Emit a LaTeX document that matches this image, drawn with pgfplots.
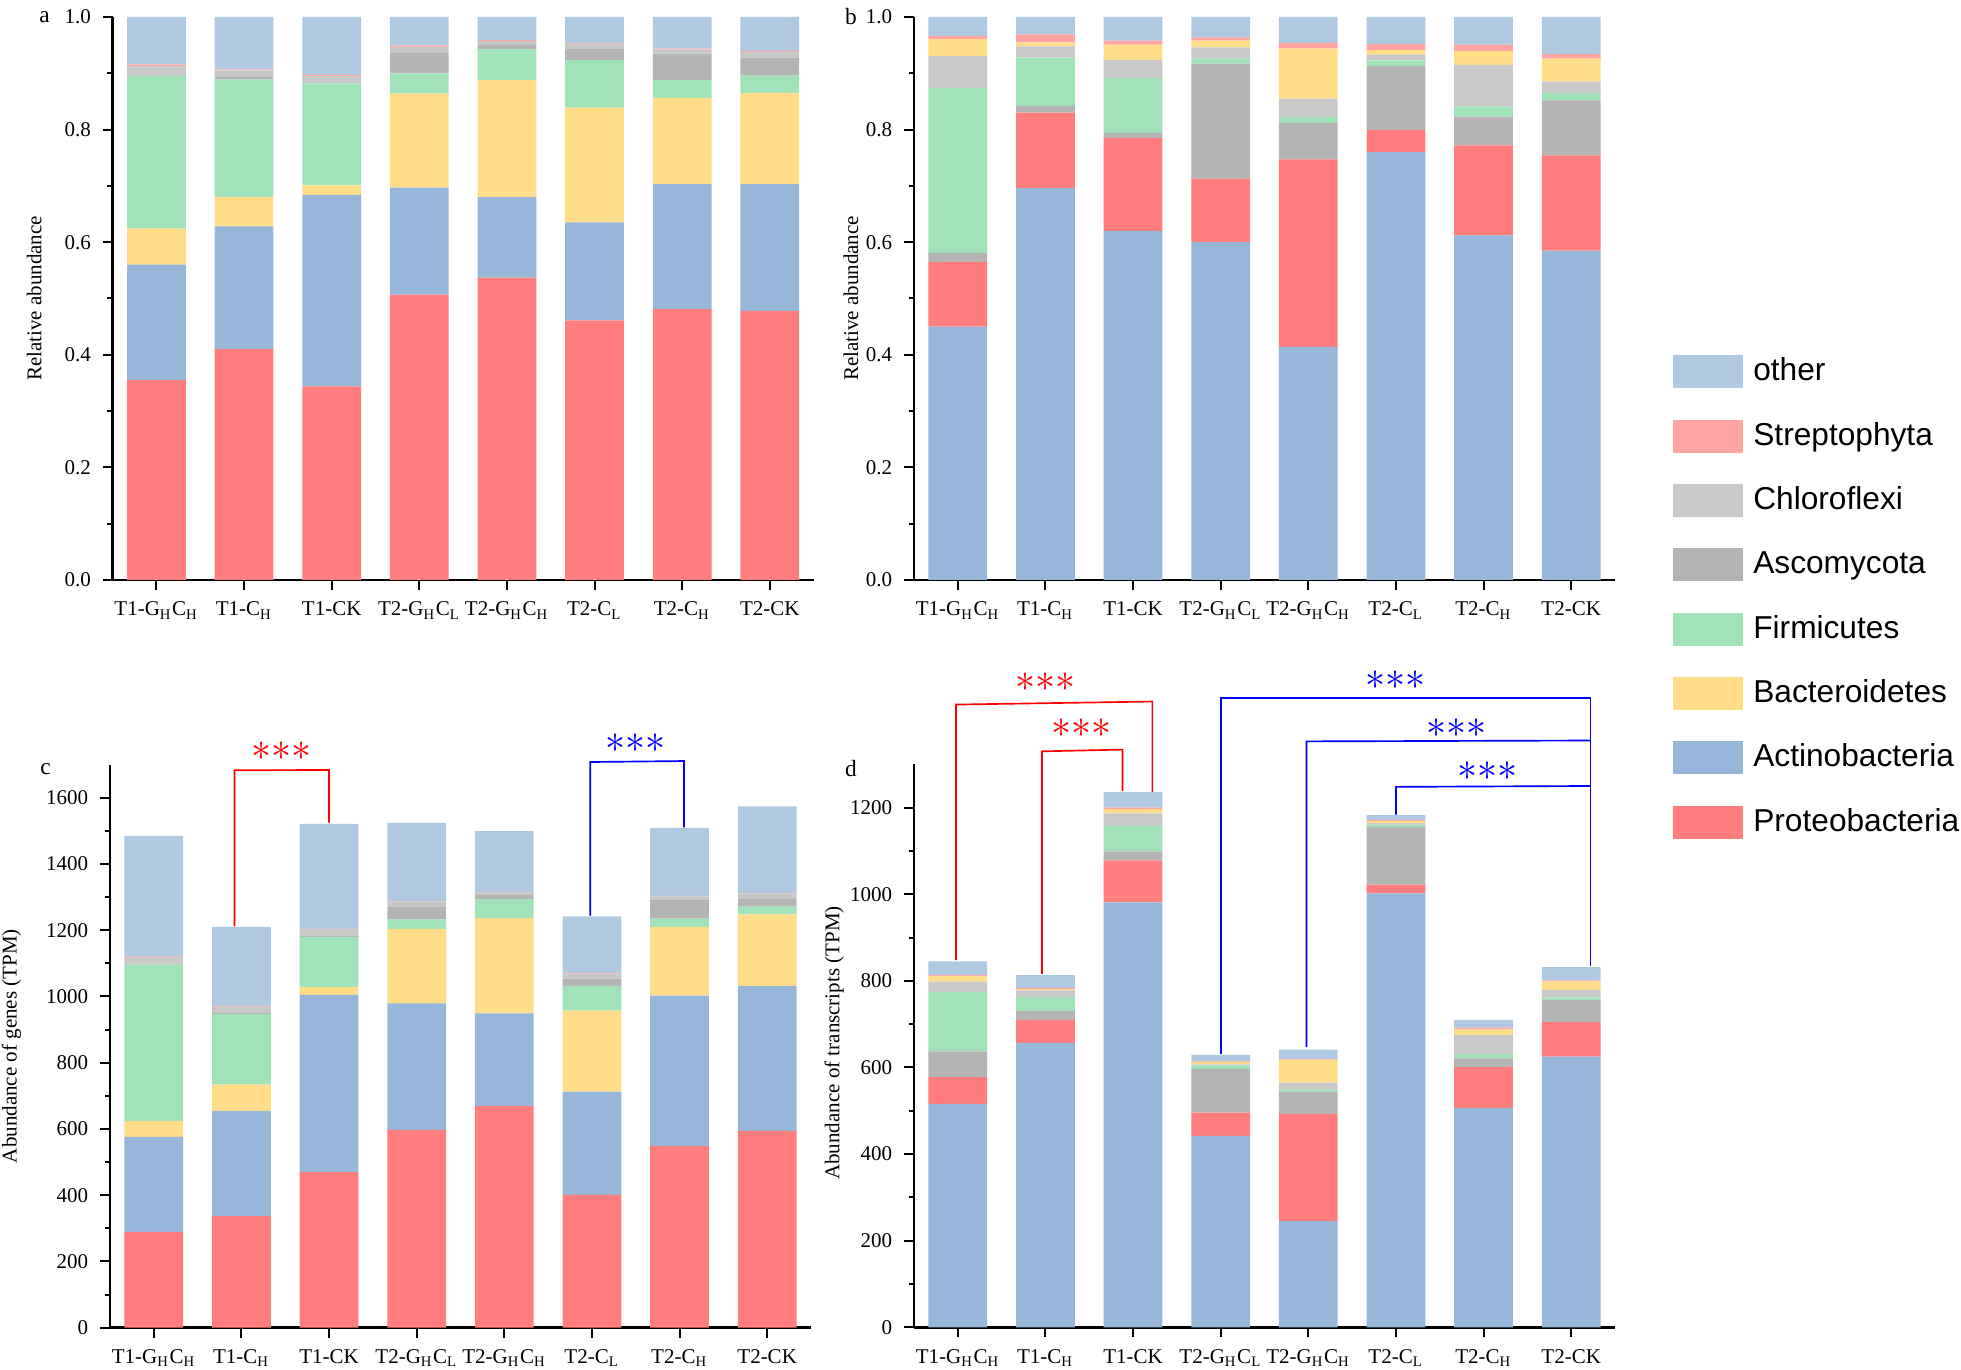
\documentclass[border=0pt]{standalone}
\usepackage{pgfplots}
\pgfplotsset{compat=1.18}
\usepackage{pgfplotstable}
\usepackage{fontspec}
\setmainfont{Liberation Serif}
\newfontfamily\legendfont{Liberation Sans}
\newcommand\lbl{\fontsize{6.3}{7.5}\selectfont}
\newcommand\stars{\fontsize{12}{12}\selectfont${\ast}{\ast}{\ast}$}

\definecolor{cO}{RGB}{176,201,226}
\definecolor{cSt}{RGB}{255,163,163}
\definecolor{cCh}{RGB}{200,200,200}
\definecolor{cAs}{RGB}{180,180,180}
\definecolor{cF}{RGB}{160,227,185}
\definecolor{cB}{RGB}{255,221,136}
\definecolor{cA}{RGB}{150,183,218}
\definecolor{cP}{RGB}{255,125,125}

% panel a: relative abundance of genes (segments, bottom to top)
\pgfplotstableread{
x P A B F As Ch St O
0 0.355 0.205 0.064 0.272 0.002 0.015 0.003 0.084
1 0.410 0.218 0.052 0.209 0.004 0.012 0.002 0.093
2 0.344 0.340 0.017 0.181 0.002 0.011 0.002 0.103
3 0.507 0.190 0.167 0.036 0.037 0.010 0.002 0.051
4 0.537 0.143 0.208 0.055 0.007 0.007 0.002 0.041
5 0.461 0.174 0.204 0.085 0.019 0.009 0.001 0.047
6 0.481 0.222 0.153 0.032 0.047 0.007 0.002 0.056
7 0.478 0.225 0.162 0.031 0.032 0.010 0.002 0.060
}\tabA
% panel b: relative abundance of transcripts
\pgfplotstableread{
x A P As F Ch B St O
0 0.450 0.115 0.016 0.293 0.057 0.030 0.005 0.034
1 0.696 0.134 0.012 0.086 0.020 0.007 0.014 0.031
2 0.620 0.165 0.009 0.098 0.032 0.027 0.007 0.042
3 0.600 0.113 0.204 0.009 0.020 0.012 0.006 0.036
4 0.414 0.333 0.065 0.010 0.033 0.089 0.010 0.046
5 0.760 0.039 0.114 0.010 0.010 0.008 0.011 0.048
6 0.612 0.160 0.051 0.018 0.074 0.025 0.011 0.049
7 0.585 0.169 0.098 0.013 0.020 0.041 0.008 0.066
}\tabB
% panel c: abundance of genes (TPM)
\pgfplotstableread{
x P A B F As Ch St O
0 289 287 48 472 3 20 2 364
1 337 318 79 213 3 18 2 240
2 470 535 23 152 2 19 2 318
3 597 382 225 29 37 17 2 235
4 669 280 288 57 14 4 2 185
5 401 312 244 75 22 15 2 171
6 549 454 207 25 56 11 2 205
7 594 437 217 23 25 15 2 261
}\tabC
% panel d: abundance of transcripts (TPM)
\pgfplotstableread{
x A P As F Ch B St O
0 516 62 59 137 24 13 2 32
1 657 53 20 33 15 3 3 29
2 981 97 21 59 29 10 3 36
3 442 54 101 8 2 6 1 15
4 245 248 51 5 16 53 2 21
5 1002 20 133 6 3 5 3 11
6 507 94 20 10 44 13 4 18
7 625 80 51 6 17 20 2 31
}\tabD

\pgfplotsset{
  panel/.style={
    width=210.3pt, height=168.9pt, scale only axis,
    ybar stacked, bar width=0.67,
    xmin=-0.5, xmax=7.5, ymin=0,
    xtick={0,...,7},
    xticklabels={T1-G\textsubscript{H}C\textsubscript{H}, T1-C\textsubscript{H}, T1-CK, T2-G\textsubscript{H}C\textsubscript{L}, T2-G\textsubscript{H}C\textsubscript{H}, T2-C\textsubscript{L}, T2-C\textsubscript{H}, T2-CK},
    axis x line*=bottom, axis y line*=left,
    axis line style={line width=0.8pt, -},
    tick align=outside, major tick length=3pt, minor tick length=1.6pt,
    tick style={line width=0.6pt, black},
    minor y tick num=1,
    ticklabel style={font=\lbl},
    label style={font=\lbl},
    /pgf/number format/assume math mode=true,
    /pgf/number format/set thousands separator={},
    clip=false,
    every axis plot/.append style={draw=none},
  },
  frac/.style={ymax=1, ytick={0,0.2,0.4,0.6,0.8,1},
    yticklabel style={/pgf/number format/.cd, fixed, fixed zerofill, precision=1}},
}

\begin{document}
\begin{tikzpicture}
\useasboundingbox (0,0) rectangle (588.3pt,-411pt);

% ---------- a ----------
\begin{axis}[panel, frac,
  at={(33.8pt,-174pt)}, anchor=south west,
  ylabel={Relative abundance},
  ylabel style={at={(axis description cs:-0.112,0.5)}, anchor=center},
  reverse legend, legend cell align=left,
  legend image code/.code={\fill[#1] (0pt,-4.95pt) rectangle (21pt,4.95pt);},
  legend style={at={(axis description cs:2.2245,0.400)}, anchor=north west,
    draw=none, fill=none, inner sep=0pt, row sep=9.4pt,
    font=\legendfont\fontsize{9.5}{11}\selectfont,
    nodes={inner sep=0pt},
    /tikz/every odd column/.append style={column sep=3.2pt}},
]
\addplot[fill=cP]  table[x=x,y=P]{\tabA}; \addlegendentry{Proteobacteria}
\addplot[fill=cA]  table[x=x,y=A]{\tabA}; \addlegendentry{Actinobacteria}
\addplot[fill=cB]  table[x=x,y=B]{\tabA}; \addlegendentry{Bacteroidetes}
\addplot[fill=cF]  table[x=x,y=F]{\tabA}; \addlegendentry{Firmicutes}
\addplot[fill=cAs] table[x=x,y=As]{\tabA}; \addlegendentry{Ascomycota}
\addplot[fill=cCh] table[x=x,y=Ch]{\tabA}; \addlegendentry{Chloroflexi}
\addplot[fill=cSt] table[x=x,y=St]{\tabA}; \addlegendentry{Streptophyta}
\addplot[fill=cO]  table[x=x,y=O]{\tabA}; \addlegendentry{other}
\node[font=\fontsize{7}{8}\selectfont] at (axis description cs:-0.097,1) {a};
\end{axis}

% ---------- b ----------
\begin{axis}[panel, frac,
  at={(274.2pt,-174pt)}, anchor=south west,
  ylabel={Relative abundance},
  ylabel style={at={(axis description cs:-0.090,0.5)}, anchor=center},
]
\addplot[fill=cA]  table[x=x,y=A]{\tabB};
\addplot[fill=cP]  table[x=x,y=P]{\tabB};
\addplot[fill=cAs] table[x=x,y=As]{\tabB};
\addplot[fill=cF]  table[x=x,y=F]{\tabB};
\addplot[fill=cCh] table[x=x,y=Ch]{\tabB};
\addplot[fill=cB]  table[x=x,y=B]{\tabB};
\addplot[fill=cSt] table[x=x,y=St]{\tabB};
\addplot[fill=cO]  table[x=x,y=O]{\tabB};
\node[font=\fontsize{7}{8}\selectfont] at (axis description cs:-0.090,1) {b};
\end{axis}

% ---------- c ----------
\begin{axis}[panel,
  at={(33.0pt,-398.3pt)}, anchor=south west,
  ymax=1700, ytick={0,200,...,1600},
  ylabel={Abundance of genes (TPM)},
  ylabel style={at={(axis description cs:-0.1405,0.5)}, anchor=center},
]
\addplot[fill=cP]  table[x=x,y=P]{\tabC};
\addplot[fill=cA]  table[x=x,y=A]{\tabC};
\addplot[fill=cB]  table[x=x,y=B]{\tabC};
\addplot[fill=cF]  table[x=x,y=F]{\tabC};
\addplot[fill=cAs] table[x=x,y=As]{\tabC};
\addplot[fill=cCh] table[x=x,y=Ch]{\tabC};
\addplot[fill=cSt] table[x=x,y=St]{\tabC};
\addplot[fill=cO]  table[x=x,y=O]{\tabC};
\node[font=\fontsize{7}{8}\selectfont] at (axis description cs:-0.092,0.992) {c};
\draw[red, line width=0.5pt] (axis cs:0.92,1212) -- (axis cs:0.92,1683) -- (axis cs:2.0,1684) -- (axis cs:2.0,1525);
\node[red] at (axis cs:1.46,1742) {\stars};
\draw[blue, line width=0.5pt] (axis cs:4.98,1244) -- (axis cs:4.98,1708) -- (axis cs:6.05,1711) -- (axis cs:6.05,1511);
\node[blue] at (axis cs:5.5,1766) {\stars};
\end{axis}

% ---------- d ----------
\begin{axis}[panel,
  at={(274.2pt,-398.2pt)}, anchor=south west,
  ymax=1300, ytick={0,200,...,1200},
  ylabel={Abundance of transcripts (TPM)},
  ylabel style={at={(axis description cs:-0.114,0.505)}, anchor=center},
]
\addplot[fill=cA]  table[x=x,y=A]{\tabD};
\addplot[fill=cP]  table[x=x,y=P]{\tabD};
\addplot[fill=cAs] table[x=x,y=As]{\tabD};
\addplot[fill=cF]  table[x=x,y=F]{\tabD};
\addplot[fill=cCh] table[x=x,y=Ch]{\tabD};
\addplot[fill=cB]  table[x=x,y=B]{\tabD};
\addplot[fill=cSt] table[x=x,y=St]{\tabD};
\addplot[fill=cO]  table[x=x,y=O]{\tabD};
\node[font=\fontsize{7}{8}\selectfont] at (axis description cs:-0.090,0.992) {d};
\draw[red, line width=0.5pt] (axis cs:-0.02,848) -- (axis cs:-0.02,1438) -- (axis cs:2.22,1445) -- (axis cs:2.22,1234);
\draw[red, line width=0.5pt] (axis cs:0.96,816) -- (axis cs:0.96,1330) -- (axis cs:1.88,1334) -- (axis cs:1.88,1238);
\node[red] at (axis cs:1.0,1489) {\stars};
\node[red] at (axis cs:1.41,1383) {\stars};
\draw[blue, line width=0.5pt] (axis cs:3.0,631) -- (axis cs:3.0,1453) -- (axis cs:7.22,1453) -- (axis cs:7.22,834);
\draw[blue, line width=0.5pt] (axis cs:3.98,647) -- (axis cs:3.98,1353) -- (axis cs:7.22,1355);
\draw[blue, line width=0.5pt] (axis cs:5.0,1184) -- (axis cs:5.0,1248) -- (axis cs:7.22,1250);
\node[blue] at (axis cs:4.99,1494) {\stars};
\node[blue] at (axis cs:5.69,1383) {\stars};
\node[blue] at (axis cs:6.05,1285) {\stars};
\end{axis}
\end{tikzpicture}
\end{document}
